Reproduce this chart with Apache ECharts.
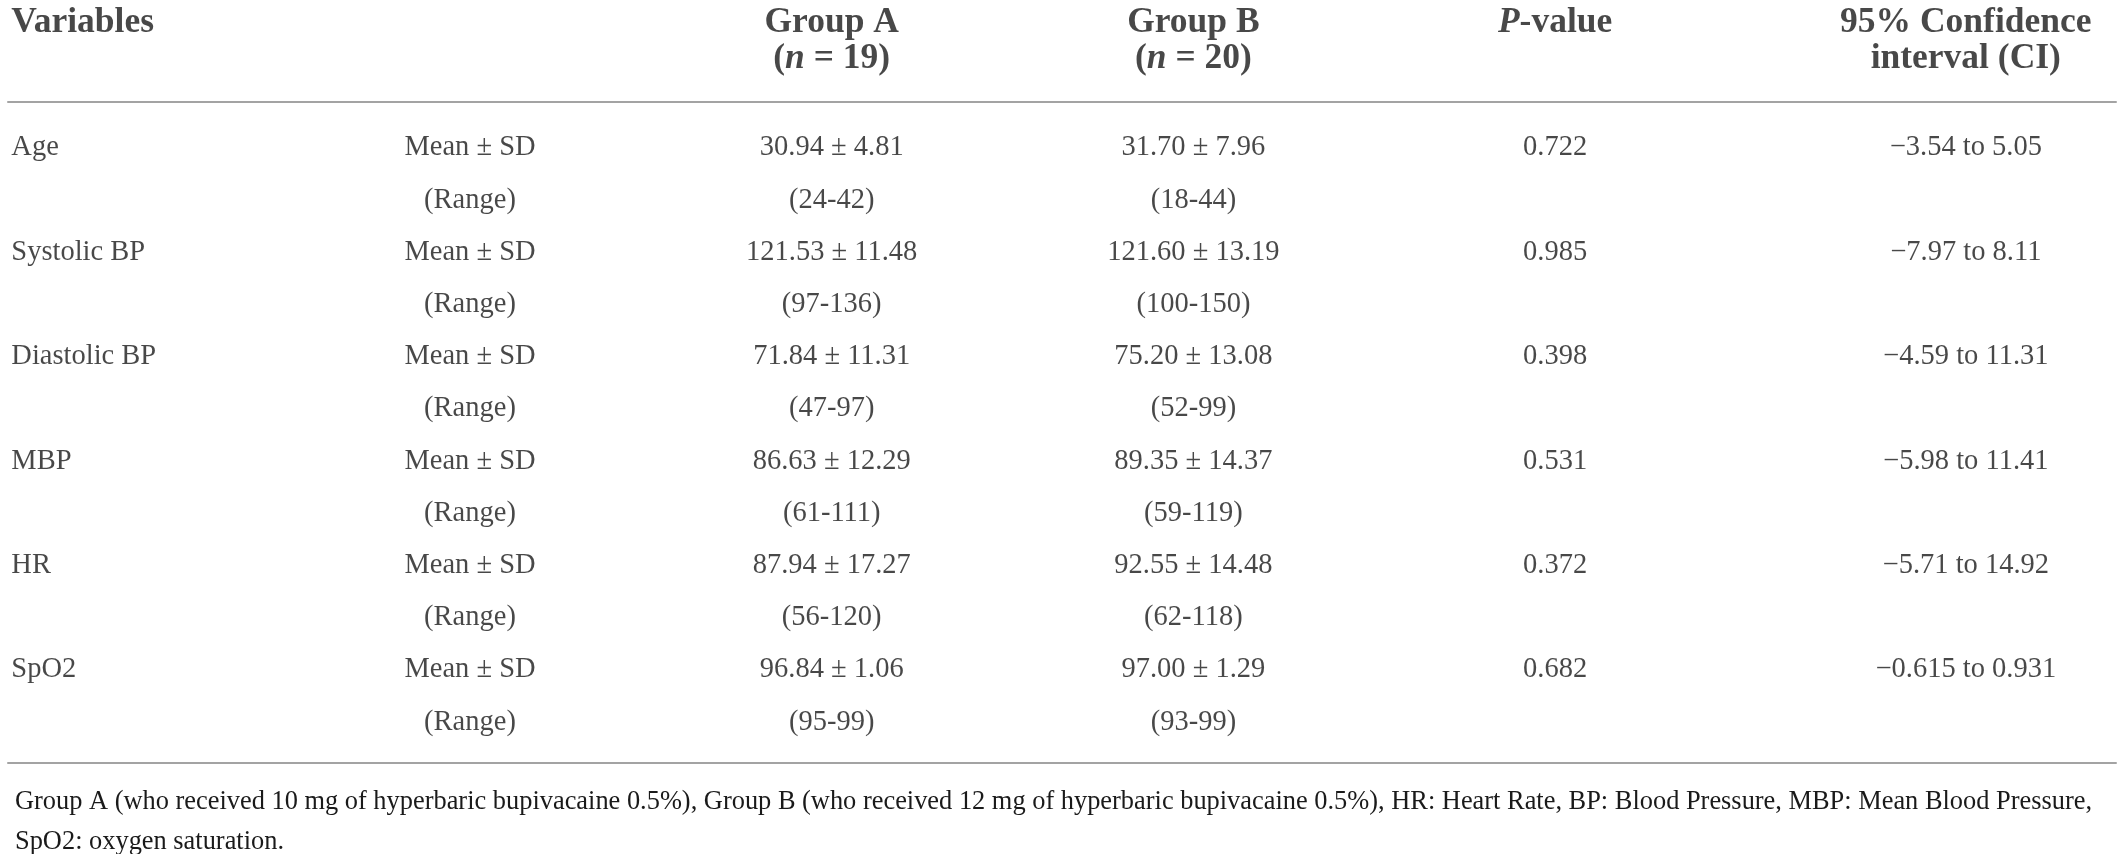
<!DOCTYPE html>
<html>
<head>
<meta charset="utf-8">
<script src="https://cdn.jsdelivr.net/npm/echarts@6/dist/echarts.min.js"></script>
<style>
html,body{margin:0;padding:0;background:#fff;}
#chart{width:2121px;height:854px;}
</style>
</head>
<body>
<div id="chart"></div>
<script>
// ---------------- DATA ----------------
var columns = ['Variables', 'Statistic', 'Group A', 'Group B', 'P-value', 'CI'];
var headerLabels = [
  '{b|Variables}\n{b| }',
  '{b| }\n{b| }',
  '{b|Group A}\n{b|(}{bi|n}{b| = 19)}',
  '{b|Group B}\n{b|(}{bi|n}{b| = 20)}',
  '{bi|P}{b|-value}\n{b| }',
  '{b|95% Confidence}\n{b|interval (CI)}'
];
var variables = ['Age', 'Systolic BP', 'Diastolic BP', 'MBP', 'HR', 'SpO2'];
var statLabels = ['Mean \u00b1 SD', '(Range)'];
var groupAMean = [30.94, 121.53, 71.84, 86.63, 87.94, 96.84];
var groupASD = [4.81, 11.48, 11.31, 12.29, 17.27, 1.06];
var groupARange = [[24, 42], [97, 136], [47, 97], [61, 111], [56, 120], [95, 99]];
var groupBMean = [31.70, 121.60, 75.20, 89.35, 92.55, 97.00];
var groupBSD = [7.96, 13.19, 13.08, 14.37, 14.48, 1.29];
var groupBRange = [[18, 44], [100, 150], [52, 99], [59, 119], [62, 118], [93, 99]];
var pValues = [0.722, 0.985, 0.398, 0.531, 0.372, 0.682];
var ciLower = [-3.54, -7.97, -4.59, -5.98, -5.71, -0.615];
var ciUpper = [5.05, 8.11, 11.31, 11.41, 14.92, 0.931];
var footnoteLines = [
  'Group A (who received 10 mg of hyperbaric bupivacaine 0.5%), Group B (who received 12 mg of hyperbaric bupivacaine 0.5%), HR: Heart Rate, BP: Blood Pressure, MBP: Mean Blood Pressure,',
  'SpO2: oxygen saturation.'
];

// ---------------- BUILD ----------------
var FONT = '"Liberation Serif", "Times New Roman", serif';
var TEXT = '#1a1a1a';
function fmtNeg(v) { return (v < 0 ? '\u2212' : '') + String(Math.abs(v)); }
function meanSd(m, s) { return m.toFixed(2) + ' \u00b1 ' + s.toFixed(2); }
function rng(r) { return '(' + r[0] + '-' + r[1] + ')'; }

var cells = [[], [], [], [], [], []];
variables.forEach(function (v, i) {
  var r0 = i * 2, r1 = i * 2 + 1;
  cells[0].push([0, r0, v]);
  cells[1].push([1, r0, statLabels[0]]);
  cells[1].push([1, r1, statLabels[1]]);
  cells[2].push([2, r0, meanSd(groupAMean[i], groupASD[i])]);
  cells[2].push([2, r1, rng(groupARange[i])]);
  cells[3].push([3, r0, meanSd(groupBMean[i], groupBSD[i])]);
  cells[3].push([3, r1, rng(groupBRange[i])]);
  cells[4].push([4, r0, pValues[i].toFixed(3)]);
  cells[5].push([5, r0, fmtNeg(ciLower[i]) + ' to ' + fmtNeg(ciUpper[i])]);
});

var colAlign = ['left', 'center', 'center', 'center', 'center', 'center'];
var colDx = [-97, 0, 0, 0, 0, 49];
var HEADER_ROW = -2;
var CLEAR = 'rgba(0,0,0,0)';

var series = [];
cells.forEach(function (data, c) {
  series.push({
    type: 'scatter', xAxisIndex: 2, yAxisIndex: 1,
    symbolSize: 2, itemStyle: { color: CLEAR }, clip: false, silent: true,
    data: data,
    label: {
      show: true, position: 'inside', align: colAlign[c], verticalAlign: 'middle',
      offset: [colDx[c], 0],
      formatter: function (p) { return p.value[2]; },
      fontFamily: FONT, fontSize: 28.5, color: TEXT
    }
  });
});
columns.forEach(function (col, c) {
  series.push({
    type: 'scatter', xAxisIndex: 2, yAxisIndex: 1,
    symbolSize: 2, itemStyle: { color: CLEAR }, clip: false, silent: true,
    data: [[c, HEADER_ROW, headerLabels[c]]],
    label: {
      show: true, position: 'inside', align: colAlign[c], verticalAlign: 'middle',
      offset: [colDx[c], -2.6],
      formatter: function (p) { return p.value[2]; },
      rich: {
        b: { fontFamily: FONT, fontSize: 35.5, fontWeight: 'bold', color: TEXT, lineHeight: 36 },
        bi: { fontFamily: FONT, fontSize: 35.5, fontWeight: 'bold', fontStyle: 'italic', color: TEXT, lineHeight: 36 }
      }
    }
  });
});

var chart = echarts.init(document.getElementById('chart'), null, { renderer: 'canvas' });
var ruleStyle = { show: true, onZero: false, lineStyle: { color: '#a3a3a3', width: 2 } };
chart.setOption({
  animation: false,
  backgroundColor: '#ffffff',
  title: {
    text: footnoteLines.join('\n'),
    left: 10, top: 777,
    textStyle: { fontFamily: FONT, fontSize: 26.4, fontWeight: 'normal', color: TEXT, lineHeight: 40 }
  },
  grid: [
    { left: 8, right: 5, top: 101.7, bottom: 91 },
    { left: 108.3, right: 204.2, top: 95.8, bottom: 79.6 }
  ],
  xAxis: [
    { gridIndex: 0, type: 'value', position: 'top', min: 0, max: 1, axisLine: ruleStyle,
      axisTick: { show: false }, axisLabel: { show: false }, splitLine: { show: false } },
    { gridIndex: 0, type: 'value', position: 'bottom', min: 0, max: 1, axisLine: ruleStyle,
      axisTick: { show: false }, axisLabel: { show: false }, splitLine: { show: false } },
    { gridIndex: 1, type: 'category', data: columns, boundaryGap: false,
      axisLine: { show: false }, axisTick: { show: false }, axisLabel: { show: false }, splitLine: { show: false } }
  ],
  yAxis: [
    { gridIndex: 0, type: 'value', min: 0, max: 1, show: false },
    { gridIndex: 1, type: 'value', inverse: true, min: -1, max: 12,
      axisLine: { show: false }, axisTick: { show: false }, axisLabel: { show: false }, splitLine: { show: false } }
  ],
  series: series
});
</script>
</body>
</html>
